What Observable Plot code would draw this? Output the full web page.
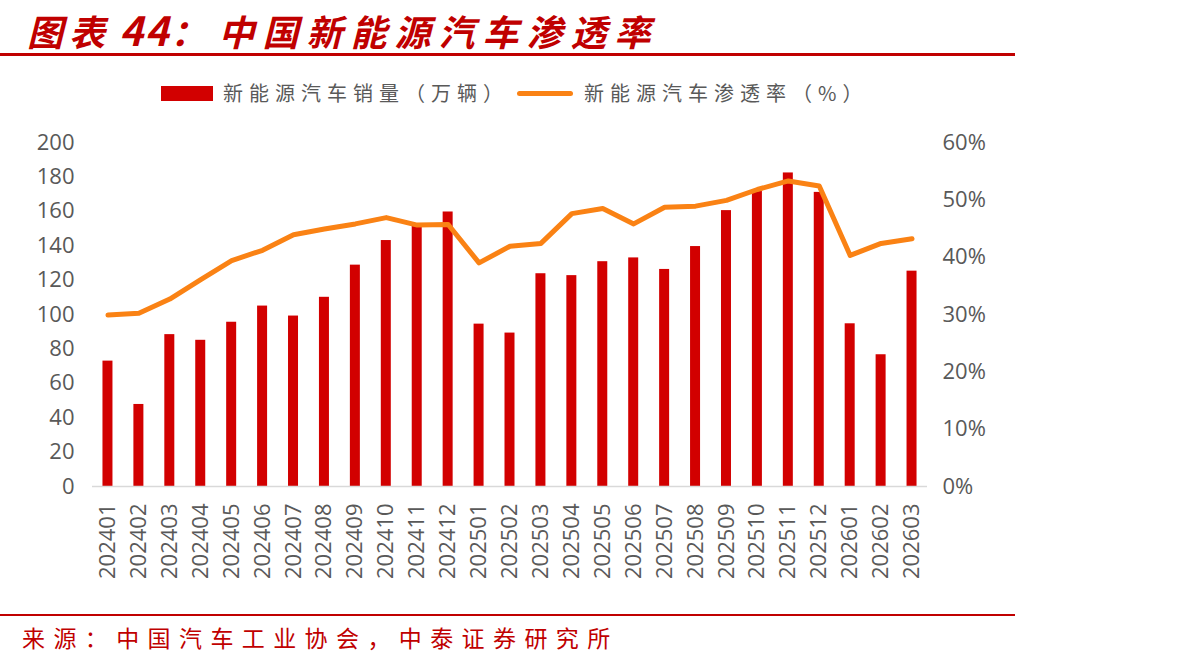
<!DOCTYPE html>
<html>
<head>
<meta charset="utf-8">
<script src="https://cdn.jsdelivr.net/npm/d3@7"></script>
<script src="https://cdn.jsdelivr.net/npm/@observablehq/plot@0.6"></script>
<style>
  html, body { margin: 0; padding: 0; background: #fff; }
  #wrap { position: relative; width: 1192px; height: 668px; overflow: hidden; background: #fff; }
  .abs { position: absolute; white-space: nowrap; }
  #title { left: 27px; top: 6px; height: 46px; font-family: "Noto Sans CJK SC", sans-serif; font-size: 36px; line-height: 46px;
           font-weight: bold; font-style: italic; color: #c00000; padding-right: 10px; }
  #titleLine { left: 0; top: 53px; width: 1015px; height: 3px; background: #c00000; }
  .legTxt { font-family: "Noto Sans CJK SC", sans-serif; font-size: 20px; line-height: 26px; color: #595959; letter-spacing: 6px; top: 80px; }
  #footLine { left: 0; top: 614px; width: 1015px; height: 2px; background: #c00000; }
  #foot { left: 22px; top: 621px; font-family: "Noto Sans CJK SC", sans-serif; font-size: 23px; line-height: 32px; color: #c00000; letter-spacing: 8.4px; }
  #chart { left: 0; top: 0; }
</style>
</head>
<body>
<div id="wrap">
  <div id="chart" class="abs"></div>
  <div id="title" class="abs"><span style="letter-spacing:6px;">图表</span> <span style="font-size:40px;letter-spacing:2px;">44</span><span>：</span><span style="letter-spacing:8px;margin-left:12px;">中国新能源汽车渗透率</span></div>
  <div id="titleLine" class="abs"></div>
  <div class="abs" style="left:161px;top:86px;width:52px;height:15px;background:#d20000;"></div>
  <div class="abs legTxt" style="left:223px;">新能源汽车销量（万辆）</div>
  <div class="abs" style="left:517px;top:91px;width:56px;height:5px;border-radius:3px;background:#fa8214;"></div>
  <div class="abs legTxt" style="left:584px;">新能源汽车渗透率（%）</div>
  <div id="footLine" class="abs"></div>
  <div id="foot" class="abs">来源：中国汽车工业协会，中泰证券研究所</div>
</div>
<script>
const months = ["202401","202402","202403","202404","202405","202406","202407","202408","202409","202410","202411","202412",
                "202501","202502","202503","202504","202505","202506","202507","202508","202509","202510","202511","202512",
                "202601","202602","202603"];
const sales = [72.9, 47.7, 88.3, 85.0, 95.5, 104.9, 99.1, 110.0, 128.7, 143.0, 151.2, 159.6,
               94.4, 89.2, 123.7, 122.6, 130.7, 132.9, 126.2, 139.5, 160.4, 171.5, 182.3, 171.0,
               94.6, 76.6, 125.2];
const penetration = [29.9, 30.2, 32.7, 36.1, 39.4, 41.2, 43.9, 44.9, 45.8, 46.9, 45.6, 45.7,
                     39.0, 41.9, 42.4, 47.6, 48.5, 45.8, 48.7, 48.9, 49.9, 51.8, 53.3, 52.4,
                     40.3, 42.4, 43.2];
const leftTicks = [0, 20, 40, 60, 80, 100, 120, 140, 160, 180, 200];
const rightTicks = [0, 10, 20, 30, 40, 50, 60];

const leftMax = 200, rightMax = 60;
const k = leftMax / rightMax;
const data = months.map((m, i) => ({month: m, sales: sales[i], pct: penetration[i]}));

const W = 1192, mL = 92, mR = 265;
const step = (W - mL - mR) / months.length;
const barW = 10;
const inset = (step - barW) / 2;

const chart = Plot.plot({
  width: W,
  height: 668,
  marginTop: 142,
  marginBottom: 182,
  marginLeft: mL,
  marginRight: mR,
  style: {background: "transparent", fontFamily: "'Open Sans', sans-serif", overflow: "visible"},
  x: {domain: months, padding: 0, round: false},
  y: {domain: [0, leftMax]},
  marks: [
    Plot.barY(data, {x: "month", y: "sales", fill: "#d20000", insetLeft: inset, insetRight: inset}),
    Plot.ruleY([0], {stroke: "#d9d9d9", strokeWidth: 1.5}),
    Plot.line(data, {x: "month", y: d => d.pct * k, stroke: "#fa8214", strokeWidth: 5, strokeLinejoin: "round", strokeLinecap: "round"}),
    Plot.axisY(leftTicks, {anchor: "left", tickSize: 0, tickPadding: 18, fontSize: 22, color: "#595959", label: null}),
    Plot.axisY(rightTicks.map(t => t * k), {anchor: "right", tickSize: 0, tickPadding: 15, fontSize: 22, color: "#595959", label: null,
      tickFormat: d => Math.round(d / k) + "%", textAnchor: "start"}),
    Plot.axisX({tickRotate: -90, tickSize: 0, tickPadding: 17, fontSize: 22, color: "#595959", label: null})
  ]
});
document.getElementById("chart").appendChild(chart);
</script>
</body>
</html>
